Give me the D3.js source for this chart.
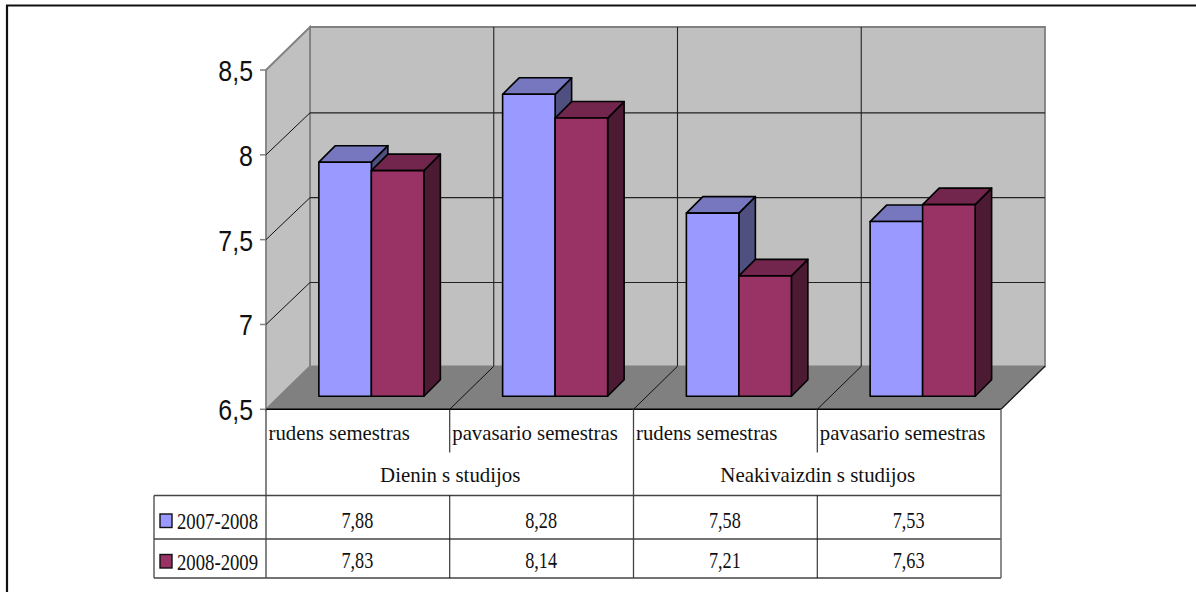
<!DOCTYPE html>
<html><head><meta charset="utf-8">
<script src="https://cdn.jsdelivr.net/npm/d3@7/dist/d3.min.js"></script>
<style>html,body{margin:0;padding:0;background:#fff}svg{display:block}</style></head>
<body><svg id="c" width="1196" height="592"></svg>
<script>
const categories = ["rudens semestras","pavasario semestras","rudens semestras","pavasario semestras"];
const groups = ["Dienin s studijos","Neakivaizdin s studijos"];
const seriesNames = ["2007-2008","2008-2009"];
const values2007 = [7.88,8.28,7.58,7.53];
const values2008 = [7.83,8.14,7.21,7.63];
const valueLabels2007 = ["7,88","8,28","7,58","7,53"];
const valueLabels2008 = ["7,83","8,14","7,21","7,63"];
const yTicks = [6.5,7,7.5,8,8.5];
const yTickLabels = ["6,5","7","7,5","8","8,5"];
const colors = ["#9999ff","#993366"];
const topColors = ["#7777c0","#73264d"];
const sideColors = ["#4f4f80","#4d1a33"];

const svg = d3.select("#c");
const x0 = 266, x1 = 1001, wd = 44, wh = 43;
const x = d3.scaleBand().domain(d3.range(4)).range([x0,x1]);
const y = d3.scaleLinear().domain([6.5,8.5]).range([409.3,70]);
const path = pts => "M"+pts.map(p=>p.join(",")).join("L")+"Z";
const line = (g,a,b,c,d,col,w) => g.append("line").attr("x1",a).attr("y1",b).attr("x2",c).attr("y2",d).attr("stroke",col).attr("stroke-width",w||1);

const g = svg.append("g");
// frame: only the top and left edges are visible in the picture
line(g,6,5.5,1196,5.5,"#111",2.2);
line(g,7,5.5,7,592,"#111",2.2);

const yB = y(8.5)-wh, yF = y(6.5);
// walls
g.append("path").attr("d",path([[x0+wd,yB],[x1+wd,yB],[x1+wd,yF-wh],[x0+wd,yF-wh]])).attr("fill","#c0c0c0").attr("stroke","#808080").attr("stroke-width",1.8);
g.append("path").attr("d",path([[x0,y(8.5)],[x0+wd,yB],[x0+wd,yF-wh],[x0,yF]])).attr("fill","#c0c0c0").attr("stroke","#808080").attr("stroke-width",1.8);
g.append("path").attr("d",path([[x0,yF],[x0+wd,yF-wh],[x1+wd,yF-wh],[x1,yF]])).attr("fill","#808080");
// grid
yTicks.slice(1,4).forEach(t=>{
  line(g,x0,y(t),x0+wd,y(t)-wh+1,"#111");
  line(g,x0+wd,y(t)-wh+1,x1+wd,y(t)-wh+1,"#222",1.1);
});
d3.range(1,4).forEach(i=>{
  const px = x(i);
  line(g,px+wd,yB,px+wd,yF-wh,"#222",1.1);
  line(g,px,yF,px+wd,yF-wh,"#111");
});
line(g,x1,yF,x1+wd,yF-wh,"#111",1.2);
line(g,x0,yF,x0+wd,yF-wh,"#808080");
// bars
const bw = 52.5, dz = 13, bd = 16.5;
const bar = (i,s,v) => {
  const l = x(i)+ (x.bandwidth()-2*bw)/2 + dz + 0.5 + s*bw, r = l+bw;
  const t = y(v)-dz, b = yF-dz;
  const st = {stroke:"#000","stroke-width":1.6,"stroke-linejoin":"round"};
  const add = (d,f)=>{const p=g.append("path").attr("d",d).attr("fill",f);Object.entries(st).forEach(([k,w])=>p.attr(k,w));};
  add(path([[r,t],[r+bd,t-bd],[r+bd,b-bd],[r,b]]),sideColors[s]);
  add(path([[l,t],[l+bd,t-bd],[r+bd,t-bd],[r,t]]),topColors[s]);
  add(path([[l,t],[r,t],[r,b],[l,b]]),colors[s]);
};
d3.range(4).forEach(i=>{bar(i,0,values2007[i]);bar(i,1,values2008[i]);});
// y axis
yTicks.forEach((t,i)=>{
  line(g,x0-6,y(t),x0,y(t),"#808080",1.5);
  g.append("text").attr("transform",`translate(253,${y(t)+11}) scale(0.86,1)`).attr("text-anchor","end")
   .attr("font-family","Liberation Sans").attr("font-size",29).attr("fill","#111").text(yTickLabels[i]);
});
// table
const T = 409.3, R1 = 495.5, R2 = 539, R3 = 578, L = 154;
line(g,x0,T,x1,T,"#000",1.5);
[R1,R2,R3].forEach(r=>line(g,L,r,x1,r,"#444",1.3));
line(g,x0,T,x0,R3,"#444",1.3);
line(g,x1,T,x1,R3,"#666",1.5);
line(g,L,R1,L,R3,"#444",1.3);
[1,3].forEach(i=>line(g,x(i),T,x(i),452.5,"#111",1));
line(g,x(2),T,x(2),R3,"#444",1.3);
[1,3].forEach(i=>line(g,x(i),R1,x(i),R3,"#111",1));
const txt = (tx,ty,s,a,sx,fs) => g.append("text").attr("transform",`translate(${tx},${ty}) scale(${sx},1)`).attr("text-anchor",a)
   .attr("font-family","Liberation Serif").attr("font-size",fs).attr("fill","#111").text(s);
categories.forEach((c,i)=>txt(x(i)+2.5,440,c,"start",0.945,22));
groups.forEach((s,i)=>txt(x(i*2+1)+0.5,481.5,s,"middle",0.95,22));
[valueLabels2007,valueLabels2008].forEach((vals,s)=>{
  const base = s?568:527.5;
  vals.forEach((v,i)=>txt(x(i)+x.bandwidth()/2-0.5,base,v,"middle",0.76,24));
  g.append("rect").attr("x",160).attr("y",base-13.5).attr("width",12).attr("height",13.5).attr("fill",colors[s]).attr("stroke","#111").attr("stroke-width",1.4);
  txt(177,base+1.5,seriesNames[s],"start",0.78,24);
});
</script></body></html>
